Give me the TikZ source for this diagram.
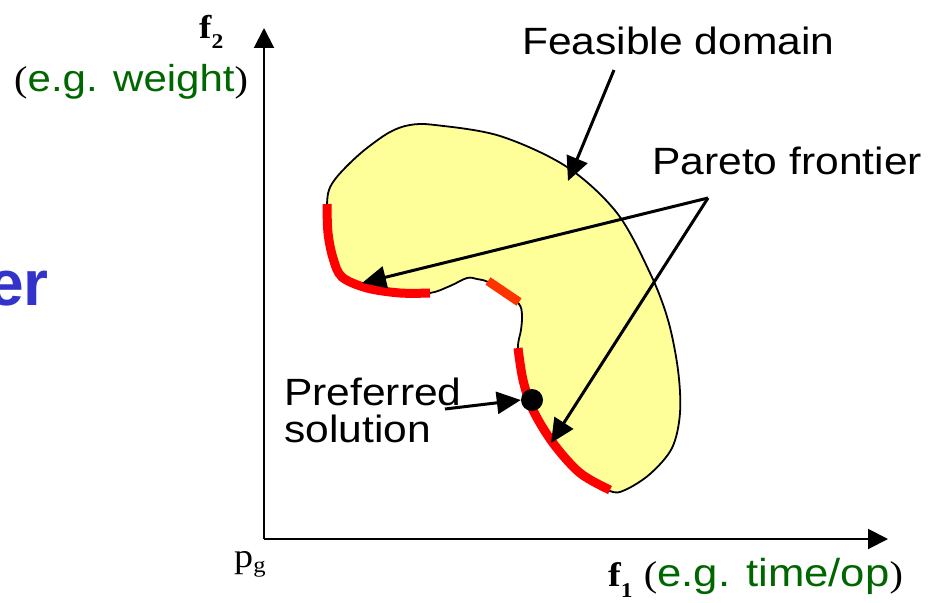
\documentclass[tikz,border=0pt]{standalone}
\usepackage{fontspec}
\setmainfont{Liberation Sans}
\newfontfamily\tmsfont{Liberation Serif}
\usetikzlibrary{arrows.meta}
\definecolor{fillyellow}{RGB}{255,255,153}
\definecolor{labelgreen}{RGB}{0,102,0}
\definecolor{titleblue}{RGB}{51,51,204}
\definecolor{paretored}{RGB}{255,0,0}
\definecolor{paretoorange}{RGB}{255,51,0}
\begin{document}
\begin{tikzpicture}[x=1pt,y=-1pt,
  txt/.style={inner sep=0pt, xscale=1.12},
  lbl/.style={txt, font=\fontsize{38}{37}\selectfont},
  axisline/.style={line width=2pt, -{Triangle[length=20pt,width=20pt]}},
  pointer/.style={line width=3pt, -{Triangle[length=24pt,width=22pt]}},
  frontier/.style={line width=9pt, paretored},
  outline/.style={draw=black, line width=1.8pt, fill=fillyellow}]
\useasboundingbox (0,0) rectangle (931,602);

% feasible domain
\path[outline] plot[smooth cycle, tension=0.55] coordinates {
 (327,205) (329,190) (336,178) (350,163) (367,148) (390,132) (410,125) (435,125)
 (500,136) (567,167) (617,213) (650,273) (668,320) (678,370) (680,413) (672,448)
 (650,474) (625,490) (610,491) (580,473) (553,443) (533,410) (523,380) (518,348)
 (521,330) (522,315) (519,304) (504,293) (488,282) (477,279) (467,278) (450,286)
 (430,293) (400,293) (367,288) (342,277) (333,258) (328,233)};

% pareto frontier segments
\draw[frontier] plot[smooth, tension=0.55] coordinates {
 (430,293) (400,293) (367,288) (342,277) (333,258) (328,233) (327,204)};
\draw[frontier, paretoorange] (488,281) -- (519,302);
\draw[frontier] plot[smooth, tension=0.55] coordinates {
 (518,348) (523,380) (533,410) (553,443) (580,473) (610,490)};

% axes
\coordinate (O) at (264,539);
\coordinate (ytip) at (264,28);
\coordinate (xtip) at (888,539);
\draw[axisline] (O) -- (ytip);
\draw[axisline] (O) -- (xtip);

% labels
\node[inner sep=0pt, anchor=base east, text=titleblue, font=\fontsize{64}{64}\selectfont\bfseries] (title) at (49,305) {er};
\node[lbl, anchor=base west] (feas) at (522,55) {Feasible domain};
\node[lbl, anchor=base west] (pareto) at (652,174) {Pareto frontier};
\node[lbl, anchor=north west, align=left] (preflbl) at (284,378) {Preferred\\solution};

\node[txt, anchor=base west] (f2) at (199,38)
  {\tmsfont\bfseries\fontsize{33}{33}\selectfont f\raisebox{-10pt}{\fontsize{21}{21}\selectfont 2}};
\node[txt, anchor=base west] (f2ex) at (14,92)
  {{\tmsfont\fontsize{36}{36}\selectfont (}\textcolor{labelgreen}{\fontsize{37.5}{37.5}\selectfont e.g. weight}{\tmsfont\fontsize{36}{36}\selectfont )}};
\node[txt, anchor=base west] (f1) at (608,586)
  {{\tmsfont\bfseries\fontsize{34}{34}\selectfont f\raisebox{-11pt}{\fontsize{21}{21}\selectfont 1}}\hspace{10pt}{\tmsfont\fontsize{36}{36}\selectfont (}\textcolor{labelgreen}{\fontsize{39}{39}\selectfont e.g. time/op}{\tmsfont\fontsize{36}{36}\selectfont )}};
\node[txt, anchor=base west] (pg) at (234,567)
  {\tmsfont\fontsize{34}{34}\selectfont p\raisebox{-5pt}{\fontsize{22}{22}\selectfont g}};

% pointers
\coordinate (feastail) at (614,70);
\coordinate (feashead) at (568,181);
\draw[pointer] (feastail) -- (feashead);
\coordinate (partail) at (708,198);
\coordinate (parhead1) at (362,283);
\coordinate (parhead2) at (551,443);
\draw[pointer] (partail) -- (parhead1);
\draw[pointer] (partail) -- (parhead2);

\node[circle, fill=black, minimum size=22pt, inner sep=0pt] (pref) at (532,400) {};
\coordinate (preftail) at (445,409);
\draw[pointer] (preftail) -- (pref.west);
\end{tikzpicture}
\end{document}
